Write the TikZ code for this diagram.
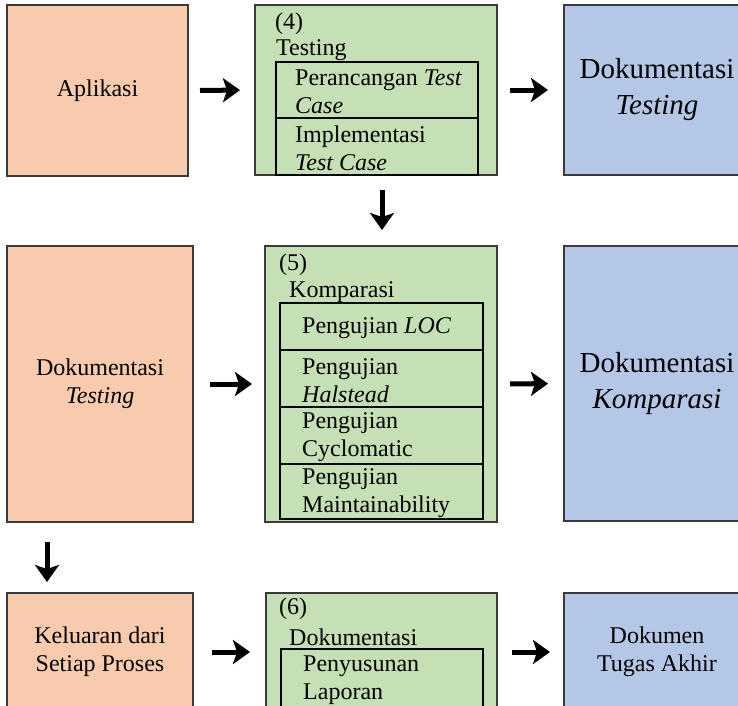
\documentclass[tikz,border=0pt]{standalone}
\usepackage{fontspec}
\setmainfont{Liberation Serif}
\usetikzlibrary{arrows.meta}
\definecolor{inputfill}{HTML}{F8CBAD}
\definecolor{processfill}{HTML}{C5E0B4}
\definecolor{outputfill}{HTML}{B4C7E7}
\definecolor{edgegray}{HTML}{3A3A3A}
\begin{document}
\begin{tikzpicture}[x=1pt,y=-1pt,
  box/.style={draw=edgegray, line width=1.3pt, fill=#1, anchor=north west,
    inner sep=0pt, outer sep=0pt, align=center, font=\fontsize{24}{28}\selectfont},
  cell/.style={draw=black, line width=1.3pt, anchor=north west, inner sep=0pt,
    outer sep=0pt, minimum width=203pt},
  label/.style={anchor=west, inner sep=0pt, yshift=-2pt, align=left, font=\fontsize{24}{28}\selectfont},
  big/.style={font=\fontsize{29}{36}\selectfont},
  flow/.style={line width=5pt, -{Stealth[length=17pt,width=24pt,inset=4pt]}}
]
\clip (0,0) rectangle (738,705);
\fill[white] (0,0) rectangle (738,705);

% ---- stage 4: testing ----
\node[box=inputfill, minimum width=181pt, minimum height=171pt] (app) at (7,5) {Aplikasi};
\node[box=processfill, minimum width=242pt, minimum height=170pt] (test) at (255,5) {};
\node[box=outputfill, big, minimum width=186pt, minimum height=170pt] (doctest) at (564,5)
  {Dokumentasi\\\textit{Testing}};
\node[label] (n4) at (275,22) {(4)};
\node[label] (t4) at (276,48) {Testing};
\node[cell, minimum width=202pt, minimum height=56pt] (tcA) at (276,62) {};
\node[cell, minimum width=202pt, minimum height=57pt] (tcB) at (276,118) {};
\node[label] (tcAt) at ([xshift=19pt]tcA.west) {Perancangan \textit{Test}\\\textit{Case}};
\node[label] (tcBt) at ([xshift=19pt]tcB.west) {Implementasi\\\textit{Test Case}};

% ---- stage 5: comparison ----
\node[box=inputfill, minimum width=186pt, minimum height=276pt] (doktest) at (7,246)
  {Dokumentasi\\\textit{Testing}};
\node[box=processfill, minimum width=232pt, minimum height=276pt] (komp) at (265,246) {};
\node[box=outputfill, big, minimum width=186pt, minimum height=275pt] (dokkomp) at (564,246)
  {Dokumentasi\\\textit{Komparasi}};
\node[label] (n5) at (279,263) {(5)};
\node[label] (t5) at (289,290) {Komparasi};
\node[cell, minimum height=47pt] (loc) at (280,303) {};
\node[cell, minimum height=57pt] (hal) at (280,350) {};
\node[cell, minimum height=57pt] (cyc) at (280,407) {};
\node[cell, minimum height=55pt] (mnt) at (280,464) {};
\node[label] (loct) at ([xshift=22pt]loc.west) {Pengujian \textit{LOC}};
\node[label] (halt) at ([xshift=22pt]hal.west) {Pengujian\\\textit{Halstead}};
\node[label] (cyct) at ([xshift=22pt]cyc.west) {Pengujian\\Cyclomatic};
\node[label] (mntt) at ([xshift=22pt]mnt.west) {Pengujian\\Maintainability};

% ---- stage 6: documentation ----
\node[box=inputfill, minimum width=186pt, minimum height=118pt] (kel) at (7,593)
  {Keluaran dari\\Setiap Proses};
\node[box=processfill, minimum width=231pt, minimum height=118pt] (dok6) at (266,593) {};
\node[box=outputfill, minimum width=186pt, minimum height=118pt] (final) at (564,593)
  {Dokumen\\Tugas Akhir};
\node[label] (n6) at (279,607) {(6)};
\node[label] (t6) at (289,635) {Dokumentasi};
\node[cell, minimum width=202pt, minimum height=59pt] (lap) at (281,649) {};
\node[label] (lapt) at ([xshift=22pt]lap.west) {Penyusunan\\Laporan};

% ---- flow arrows ----
\draw[flow, shorten <=12pt, shorten >=15pt] (app.east) -- (test.west);
\draw[flow, shorten <=13pt, shorten >=16pt] (test.east) -- (doctest.west);
\draw[flow, shorten <=15pt, shorten >=16pt] ([xshift=6pt]test.south) -- ([xshift=6pt]test.south |- komp.north);
\draw[flow, shorten <=17pt, shorten >=13pt] (doktest.east) -- (komp.west);
\draw[flow, shorten <=13pt, shorten >=16pt] (komp.east) -- (dokkomp.west);
\draw[flow, shorten <=20pt, shorten >=11pt] ([xshift=-53pt]doktest.south) -- ([xshift=-53pt]doktest.south |- kel.north);
\draw[flow, shorten <=19pt, shorten >=16pt] (kel.east) -- (dok6.west);
\draw[flow, shorten <=15pt, shorten >=14pt] (dok6.east) -- (final.west);
\end{tikzpicture}
\end{document}
